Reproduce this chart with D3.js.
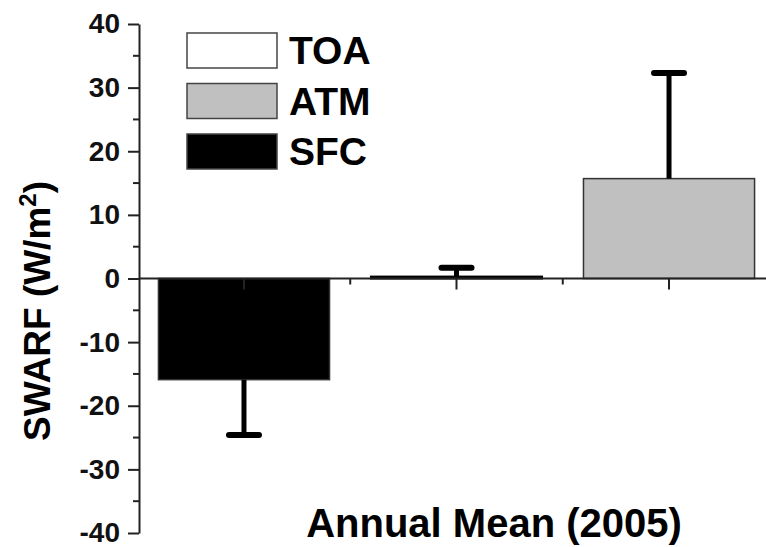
<!DOCTYPE html>
<html>
<head>
<meta charset="utf-8">
<script src="https://cdn.jsdelivr.net/npm/d3@7"></script>
<style>
  body { margin: 0; background: #fff; }
  text { font-family: "Liberation Sans", Arial, sans-serif; font-weight: bold; }
</style>
</head>
<body>
<div id="chart"></div>
<script>
const categories = ["SFC", "TOA", "ATM"];
const values = [-15.9, 0.3, 15.7];
const errors = [8.7, 1.4, 16.6];
const fills = ["#000000", "#ffffff", "#c0c0c0"];
const legendOrder = ["TOA", "ATM", "SFC"];
const yTicks = [-40, -30, -20, -10, 0, 10, 20, 30, 40];

const width = 766, height = 547;

const svg = d3.select("#chart").append("svg")
    .attr("width", width)
    .attr("height", height);

const x = d3.scaleBand()
    .domain(categories)
    .range([117, 796])
    .padding(0.195);

const y = d3.scaleLinear()
    .domain([-40, 40])
    .range([533, 24]);

const axisX = 139;

// y axis, plain hyphen for negatives like the original
const yAxis = svg.append("g")
    .attr("transform", `translate(${axisX},0)`)
    .call(d3.axisLeft(y).tickValues(yTicks).tickFormat(d => String(d))
        .tickSize(11).tickSizeOuter(0).tickPadding(8));
yAxis.select(".domain").attr("stroke", "#222").attr("stroke-width", 2);
yAxis.selectAll(".tick line").attr("stroke", "#222").attr("stroke-width", 2);
yAxis.selectAll(".tick text")
    .style("font-size", "28px")
    .attr("fill", "#111");

// minor y ticks
svg.append("g").selectAll("line")
    .data(d3.range(-35, 40, 10))
    .enter().append("line")
    .attr("x1", axisX - 6).attr("x2", axisX)
    .attr("y1", d => y(d)).attr("y2", d => y(d))
    .attr("stroke", "#222").attr("stroke-width", 2);

// bars
svg.append("g").selectAll("rect")
    .data(categories)
    .enter().append("rect")
    .attr("x", d => x(d))
    .attr("width", x.bandwidth())
    .attr("y", (d, i) => y(Math.max(0, values[i])))
    .attr("height", (d, i) => Math.abs(y(values[i]) - y(0)))
    .attr("fill", (d, i) => fills[i])
    .attr("stroke", (d, i) => i === 1 ? "#000" : "#333")
    .attr("stroke-width", (d, i) => i === 1 ? 2 : 1.5);

// zero line
svg.append("line")
    .attr("x1", axisX).attr("x2", width)
    .attr("y1", y(0)).attr("y2", y(0))
    .attr("stroke", "#222").attr("stroke-width", 2);

// x ticks: major at category centers, minor between
const centers = categories.map(c => x(c) + x.bandwidth() / 2);
svg.append("g").selectAll("line")
    .data(centers)
    .enter().append("line")
    .attr("x1", d => d).attr("x2", d => d)
    .attr("y1", y(0)).attr("y2", y(0) + 11)
    .attr("stroke", "#222").attr("stroke-width", 2);
svg.append("g").selectAll("line")
    .data(d3.pairs(centers).map(p => (p[0] + p[1]) / 2))
    .enter().append("line")
    .attr("x1", d => d).attr("x2", d => d)
    .attr("y1", y(0)).attr("y2", y(0) + 6)
    .attr("stroke", "#222").attr("stroke-width", 2);

// error bars (one-sided, away from zero)
const err = svg.append("g");
categories.forEach((c, i) => {
    const cx = centers[i];
    const end = values[i] + Math.sign(values[i]) * errors[i];
    err.append("line")
        .attr("x1", cx).attr("x2", cx)
        .attr("y1", y(values[i])).attr("y2", y(end))
        .attr("stroke", "#000").attr("stroke-width", 5);
    err.append("line")
        .attr("x1", cx - 15).attr("x2", cx + 15)
        .attr("y1", y(end)).attr("y2", y(end))
        .attr("stroke", "#000").attr("stroke-width", 6)
        .attr("stroke-linecap", "round");
});

// legend
const legend = svg.append("g");
legendOrder.forEach((name, i) => {
    const idx = categories.indexOf(name);
    const ly = 33 + i * 50.5;
    legend.append("rect")
        .attr("x", 187).attr("y", ly)
        .attr("width", 90).attr("height", 35)
        .attr("fill", fills[idx])
        .attr("stroke", "#444").attr("stroke-width", 1.5);
    legend.append("text")
        .attr("x", 289).attr("y", ly + 31)
        .style("font-size", "39px")
        .attr("fill", "#000")
        .text(name);
});

// axis titles
svg.append("text")
    .attr("x", 494).attr("y", 537)
    .attr("text-anchor", "middle")
    .style("font-size", "40px")
    .text("Annual Mean (2005)");

const yt = svg.append("text")
    .attr("transform", "translate(50,311) rotate(-90)")
    .attr("text-anchor", "middle")
    .style("font-size", "37px");
yt.append("tspan").text("SWARF (W/m");
yt.append("tspan").attr("dy", -14).style("font-size", "24px").text("2");
yt.append("tspan").attr("dy", 14).text(")");
</script>
</body>
</html>
